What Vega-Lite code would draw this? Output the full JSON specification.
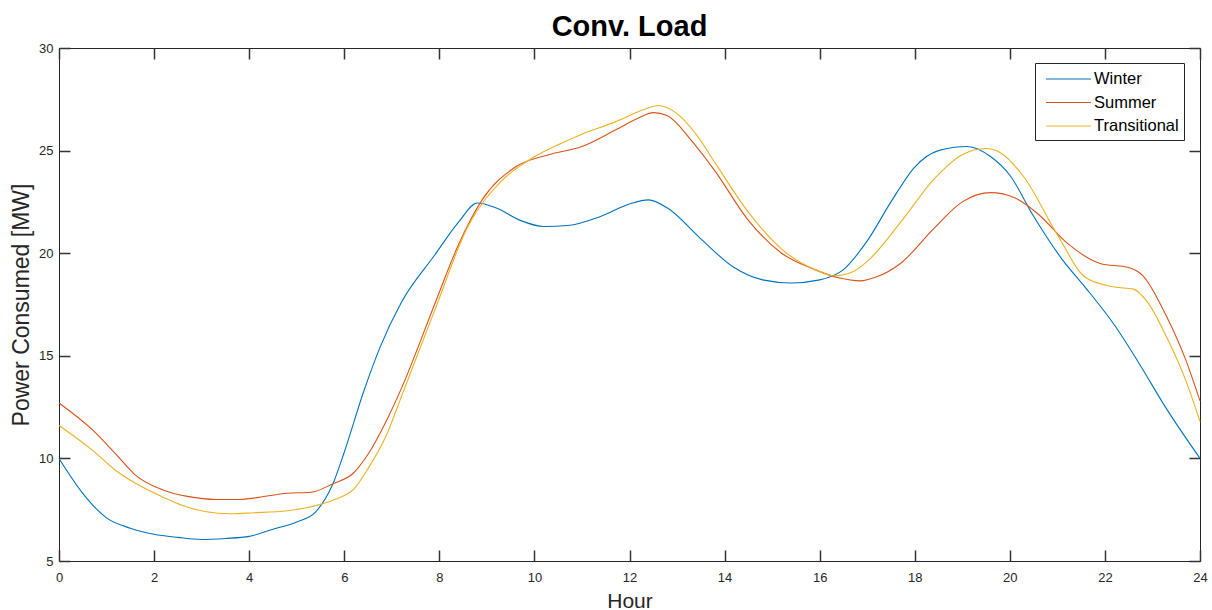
{
  "$schema": "https://vega.github.io/schema/vega-lite/v6.json",
  "width": 1141,
  "height": 513,
  "autosize": {"type": "none"},
  "padding": {"left": 59, "top": 48, "right": 12, "bottom": 49},
  "background": "white",
  "config": {
    "font": "Liberation Sans",
    "view": {"stroke": "#262626", "strokeWidth": 1},
    "axis": {"grid": false, "domain": false, "labelColor": "#262626", "labelFont": "Liberation Sans", "labelFontSize": 13, "titleColor": "#262626", "titleFont": "Liberation Sans", "titleFontWeight": "normal"}
  },
  "title": {"text": "Conv. Load", "fontSize": 29, "fontWeight": "bold", "font": "Liberation Sans", "color": "#000000", "anchor": "middle", "offset": 0},
  "data": {"values": [
    {"hour": 0, "season": "Winter", "power": 10.0},
    {"hour": 0.5, "season": "Winter", "power": 8.3},
    {"hour": 1, "season": "Winter", "power": 7.1},
    {"hour": 1.5, "season": "Winter", "power": 6.6},
    {"hour": 2, "season": "Winter", "power": 6.3},
    {"hour": 2.5, "season": "Winter", "power": 6.15},
    {"hour": 3, "season": "Winter", "power": 6.05},
    {"hour": 3.5, "season": "Winter", "power": 6.1},
    {"hour": 4, "season": "Winter", "power": 6.2},
    {"hour": 4.5, "season": "Winter", "power": 6.55},
    {"hour": 5, "season": "Winter", "power": 6.9},
    {"hour": 5.4, "season": "Winter", "power": 7.4},
    {"hour": 5.75, "season": "Winter", "power": 8.7},
    {"hour": 6, "season": "Winter", "power": 10.3},
    {"hour": 6.4, "season": "Winter", "power": 13.2},
    {"hour": 6.75, "season": "Winter", "power": 15.4},
    {"hour": 7.2, "season": "Winter", "power": 17.6},
    {"hour": 7.9, "season": "Winter", "power": 19.9},
    {"hour": 8.4, "season": "Winter", "power": 21.5},
    {"hour": 8.8, "season": "Winter", "power": 22.45},
    {"hour": 9.2, "season": "Winter", "power": 22.2},
    {"hour": 9.7, "season": "Winter", "power": 21.6},
    {"hour": 10.2, "season": "Winter", "power": 21.3},
    {"hour": 10.7, "season": "Winter", "power": 21.35},
    {"hour": 11.4, "season": "Winter", "power": 21.8},
    {"hour": 12, "season": "Winter", "power": 22.4},
    {"hour": 12.4, "season": "Winter", "power": 22.6},
    {"hour": 12.8, "season": "Winter", "power": 22.2},
    {"hour": 13.5, "season": "Winter", "power": 20.7},
    {"hour": 14.2, "season": "Winter", "power": 19.3},
    {"hour": 14.8, "season": "Winter", "power": 18.7},
    {"hour": 15.4, "season": "Winter", "power": 18.55},
    {"hour": 16, "season": "Winter", "power": 18.7},
    {"hour": 16.5, "season": "Winter", "power": 19.2},
    {"hour": 17, "season": "Winter", "power": 20.6},
    {"hour": 17.5, "season": "Winter", "power": 22.5},
    {"hour": 18, "season": "Winter", "power": 24.2},
    {"hour": 18.5, "season": "Winter", "power": 25.0},
    {"hour": 19.1, "season": "Winter", "power": 25.2},
    {"hour": 19.6, "season": "Winter", "power": 24.7},
    {"hour": 20, "season": "Winter", "power": 23.8},
    {"hour": 20.5, "season": "Winter", "power": 21.8},
    {"hour": 21.1, "season": "Winter", "power": 19.7},
    {"hour": 21.6, "season": "Winter", "power": 18.3},
    {"hour": 22.2, "season": "Winter", "power": 16.5},
    {"hour": 22.7, "season": "Winter", "power": 14.7},
    {"hour": 23.3, "season": "Winter", "power": 12.4},
    {"hour": 24, "season": "Winter", "power": 10.0},
    {"hour": 0, "season": "Summer", "power": 12.7},
    {"hour": 0.7, "season": "Summer", "power": 11.4},
    {"hour": 1.2, "season": "Summer", "power": 10.2},
    {"hour": 1.6, "season": "Summer", "power": 9.2},
    {"hour": 2.2, "season": "Summer", "power": 8.45},
    {"hour": 2.7, "season": "Summer", "power": 8.15},
    {"hour": 3.3, "season": "Summer", "power": 8.0},
    {"hour": 3.8, "season": "Summer", "power": 8.0},
    {"hour": 4.2, "season": "Summer", "power": 8.1},
    {"hour": 4.8, "season": "Summer", "power": 8.3},
    {"hour": 5.3, "season": "Summer", "power": 8.35},
    {"hour": 5.75, "season": "Summer", "power": 8.75},
    {"hour": 6.2, "season": "Summer", "power": 9.3},
    {"hour": 6.5, "season": "Summer", "power": 10.2},
    {"hour": 6.9, "season": "Summer", "power": 11.9},
    {"hour": 7.2, "season": "Summer", "power": 13.4},
    {"hour": 7.9, "season": "Summer", "power": 17.5},
    {"hour": 8.4, "season": "Summer", "power": 20.4},
    {"hour": 8.9, "season": "Summer", "power": 22.6},
    {"hour": 9.6, "season": "Summer", "power": 24.2},
    {"hour": 10.3, "season": "Summer", "power": 24.8},
    {"hour": 11.0, "season": "Summer", "power": 25.2},
    {"hour": 11.7, "season": "Summer", "power": 26.0},
    {"hour": 12.2, "season": "Summer", "power": 26.6},
    {"hour": 12.5, "season": "Summer", "power": 26.85},
    {"hour": 12.8, "season": "Summer", "power": 26.7},
    {"hour": 13.3, "season": "Summer", "power": 25.5},
    {"hour": 13.8, "season": "Summer", "power": 24.0},
    {"hour": 14.5, "season": "Summer", "power": 21.6},
    {"hour": 15.2, "season": "Summer", "power": 20.0},
    {"hour": 15.9, "season": "Summer", "power": 19.2},
    {"hour": 16.4, "season": "Summer", "power": 18.8},
    {"hour": 16.85, "season": "Summer", "power": 18.65},
    {"hour": 17.2, "season": "Summer", "power": 18.85},
    {"hour": 17.7, "season": "Summer", "power": 19.5},
    {"hour": 18.4, "season": "Summer", "power": 21.2},
    {"hour": 19.0, "season": "Summer", "power": 22.5},
    {"hour": 19.6, "season": "Summer", "power": 22.95},
    {"hour": 20.1, "season": "Summer", "power": 22.7},
    {"hour": 20.6, "season": "Summer", "power": 21.9},
    {"hour": 21.2, "season": "Summer", "power": 20.5},
    {"hour": 21.9, "season": "Summer", "power": 19.5},
    {"hour": 22.5, "season": "Summer", "power": 19.3},
    {"hour": 22.8, "season": "Summer", "power": 18.9},
    {"hour": 23.3, "season": "Summer", "power": 16.9},
    {"hour": 23.7, "season": "Summer", "power": 14.8},
    {"hour": 24, "season": "Summer", "power": 12.8},
    {"hour": 0, "season": "Transitional", "power": 11.6},
    {"hour": 0.7, "season": "Transitional", "power": 10.4},
    {"hour": 1.2, "season": "Transitional", "power": 9.4},
    {"hour": 1.6, "season": "Transitional", "power": 8.8},
    {"hour": 2.2, "season": "Transitional", "power": 8.1},
    {"hour": 2.6, "season": "Transitional", "power": 7.7},
    {"hour": 3.1, "season": "Transitional", "power": 7.4},
    {"hour": 3.6, "season": "Transitional", "power": 7.3},
    {"hour": 4.1, "season": "Transitional", "power": 7.35},
    {"hour": 4.8, "season": "Transitional", "power": 7.45},
    {"hour": 5.4, "season": "Transitional", "power": 7.7},
    {"hour": 5.8, "season": "Transitional", "power": 8.0},
    {"hour": 6.2, "season": "Transitional", "power": 8.5},
    {"hour": 6.5, "season": "Transitional", "power": 9.5},
    {"hour": 6.9, "season": "Transitional", "power": 11.2},
    {"hour": 7.2, "season": "Transitional", "power": 13.0},
    {"hour": 7.9, "season": "Transitional", "power": 17.2},
    {"hour": 8.6, "season": "Transitional", "power": 21.3},
    {"hour": 9.3, "season": "Transitional", "power": 23.5},
    {"hour": 10.0, "season": "Transitional", "power": 24.7},
    {"hour": 10.6, "season": "Transitional", "power": 25.4},
    {"hour": 11.0, "season": "Transitional", "power": 25.8},
    {"hour": 11.7, "season": "Transitional", "power": 26.4},
    {"hour": 12.3, "season": "Transitional", "power": 27.0},
    {"hour": 12.6, "season": "Transitional", "power": 27.2},
    {"hour": 13.0, "season": "Transitional", "power": 26.8},
    {"hour": 13.4, "season": "Transitional", "power": 25.8},
    {"hour": 13.8, "season": "Transitional", "power": 24.4},
    {"hour": 14.5, "season": "Transitional", "power": 22.0},
    {"hour": 15.2, "season": "Transitional", "power": 20.2},
    {"hour": 15.9, "season": "Transitional", "power": 19.2},
    {"hour": 16.3, "season": "Transitional", "power": 18.9},
    {"hour": 16.7, "season": "Transitional", "power": 19.1},
    {"hour": 17.0, "season": "Transitional", "power": 19.6},
    {"hour": 17.7, "season": "Transitional", "power": 21.5},
    {"hour": 18.4, "season": "Transitional", "power": 23.6},
    {"hour": 19.0, "season": "Transitional", "power": 24.8},
    {"hour": 19.5, "season": "Transitional", "power": 25.1},
    {"hour": 19.8, "season": "Transitional", "power": 24.9},
    {"hour": 20.3, "season": "Transitional", "power": 23.7},
    {"hour": 21.0, "season": "Transitional", "power": 20.9},
    {"hour": 21.6, "season": "Transitional", "power": 18.8},
    {"hour": 22.2, "season": "Transitional", "power": 18.35},
    {"hour": 22.6, "season": "Transitional", "power": 18.25},
    {"hour": 22.9, "season": "Transitional", "power": 17.6},
    {"hour": 23.3, "season": "Transitional", "power": 15.9},
    {"hour": 23.7, "season": "Transitional", "power": 13.8},
    {"hour": 24, "season": "Transitional", "power": 11.8}
  ]},
  "layer": [
    {
      "mark": {"type": "line", "interpolate": "monotone", "strokeWidth": 1.1},
      "encoding": {
        "x": {"field": "hour", "type": "quantitative", "scale": {"domain": [0, 24], "nice": false, "zero": false},
              "axis": {"orient": "bottom", "values": [0, 2, 4, 6, 8, 10, 12, 14, 16, 18, 20, 22, 24], "ticks": true, "tickSize": 11, "tickWidth": 1.5, "tickColor": "#333333", "offset": -11, "labelPadding": 10, "title": "Hour", "titleFontSize": 21, "titlePadding": 6, "labelFlush": false}},
        "y": {"field": "power", "type": "quantitative", "scale": {"domain": [5, 30], "nice": false, "zero": false},
              "axis": {"orient": "left", "values": [5, 10, 15, 20, 25, 30], "ticks": true, "tickSize": 11, "tickWidth": 1.5, "tickColor": "#333333", "offset": -11, "labelPadding": 6, "title": "Power Consumed [MW]", "titleFontSize": 23, "titlePadding": 5, "labelFlush": false}},
        "color": {"field": "season", "type": "nominal",
                  "scale": {"domain": ["Winter", "Summer", "Transitional"], "range": ["#0072BD", "#D95319", "#EDB120"]},
                  "legend": {"title": null, "orient": "none", "legendX": 976, "legendY": 15, "symbolType": "M-0.5,0L4,0", "symbolSize": 400, "symbolStrokeWidth": 1.1, "symbolFillColor": "transparent", "labelFontSize": 16.5, "labelColor": "#000000", "labelFont": "Liberation Sans", "labelOffset": 32, "rowPadding": 3.5, "padding": 5, "strokeColor": "#262626", "fillColor": "white", "cornerRadius": 0}}
      }
    },
    {
      "mark": {"type": "line", "opacity": 0},
      "encoding": {
        "x": {"field": "hour", "type": "quantitative", "scale": {"domain": [0, 24], "nice": false, "zero": false},
              "axis": {"orient": "top", "values": [0, 2, 4, 6, 8, 10, 12, 14, 16, 18, 20, 22, 24], "ticks": true, "tickSize": 11, "tickWidth": 1.5, "tickColor": "#333333", "offset": -11, "labels": false, "title": null}},
        "y": {"field": "power", "type": "quantitative", "scale": {"domain": [5, 30], "nice": false, "zero": false},
              "axis": {"orient": "right", "values": [5, 10, 15, 20, 25, 30], "ticks": true, "tickSize": 11, "tickWidth": 1.5, "tickColor": "#333333", "offset": -11, "labels": false, "title": null}},
        "detail": {"field": "season", "type": "nominal"}
      }
    }
  ],
  "resolve": {"axis": {"x": "independent", "y": "independent"}}
}
